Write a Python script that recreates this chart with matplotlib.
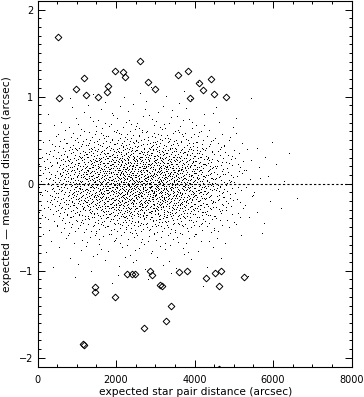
import numpy as np
import matplotlib
matplotlib.use("Agg")
import matplotlib.pyplot as plt
from matplotlib.ticker import MultipleLocator

# outlier star pairs (diamonds)
out_x = [517, 543, 976, 1190, 1248, 1554, 1776, 1791, 1970, 2173, 2224, 2599,
         2803, 2989, 3585, 3840, 4110, 4408, 4204, 4485, 3873, 4808,
         2268, 2413, 2472, 1460, 1460, 1962, 2709, 1164, 1190, 2854, 2905,
         3116, 3160, 3593, 3797, 4288, 4510, 4663, 4612, 5267, 3396, 3279, 4612]
out_y = [1.68, 0.98, 1.09, 1.21, 1.02, 1.00, 1.05, 1.12, 1.29, 1.28, 1.22, 1.41,
         1.17, 1.09, 1.25, 1.29, 1.16, 1.20, 1.07, 1.03, 0.98, 0.99,
         -1.04, -1.04, -1.04, -1.19, -1.25, -1.30, -1.66, -1.84, -1.85, -1.00, -1.05,
         -1.16, -1.18, -1.01, -1.00, -1.08, -1.03, -1.00, -1.17, -1.07, -1.41, -1.58, -2.13]

# the dense cloud of star pairs, read as a density table:
# number of pairs per 250 arcsec bin of expected distance
bin_width = 250
bin_counts = [30, 52, 75, 98, 115, 132, 147, 160, 170, 175, 175, 172, 170, 160,
              147, 129, 109, 85, 60, 39, 23, 13, 7, 5, 3, 2, 1, 0]
# relative density of residuals in 0.1 arcsec steps away from zero (same both sides)
resid_step = 0.1
resid_profile = [1.0, 0.95, 0.82, 0.62, 0.4, 0.22, 0.12, 0.07, 0.045, 0.03, 0.018, 0.008]


def radical_inverse(i, base):
    f, r = 1.0, 0.0
    while i > 0:
        f /= base
        r += f * (i % base)
        i //= base
    return r


# spread each bin's pairs over the bin with a low-discrepancy layout
dens = np.array(resid_profile[::-1] + resid_profile, dtype=float)
nb = len(resid_profile)
edges = np.arange(-nb, nb + 1) * resid_step
cdf = np.concatenate([[0], np.cumsum(dens)]) / dens.sum()

cloud_x, cloud_y = [], []
idx = 1
for k, n in enumerate(bin_counts):
    for j in range(n):
        u = radical_inverse(idx, 2)
        q = radical_inverse(idx, 3)
        idx += 1
        cloud_x.append(k * bin_width + u * bin_width)
        cloud_y.append(np.interp(q, cdf, edges))

fig = plt.figure(figsize=(3.64, 3.97), dpi=100)
ax = fig.add_axes([37.5 / 364, 30.5 / 397, 314 / 364, 365.7 / 397])

ax.plot(cloud_x, cloud_y, ',', color='black')
ax.plot(out_x, out_y, 'D', ms=3.4, mfc='none', mec='black', mew=0.7, clip_on=True)
ax.plot([0, 8000], [0, 0], color='black', lw=0.8, linestyle=(0, (2, 2)))

ax.set_xlim(0, 8000)
ax.set_ylim(-2.1, 2.1)
ax.xaxis.set_major_locator(MultipleLocator(2000))
ax.xaxis.set_minor_locator(MultipleLocator(500))
ax.yaxis.set_major_locator(MultipleLocator(1))
ax.yaxis.set_minor_locator(MultipleLocator(0.1))
ax.tick_params(which='both', direction='in', top=True, right=True, width=0.7,
               labelsize=7)
ax.tick_params(which='major', length=5)
ax.tick_params(which='minor', length=2.5)
ax.tick_params(axis='x', pad=6)
ax.tick_params(axis='y', pad=3)
ax.set_yticks([-2, -1, 0, 1, 2])
ax.set_yticklabels(['\u22122', '\u22121', '0', '1', '2'])
for s in ax.spines.values():
    s.set_linewidth(0.8)

ax.set_xlabel('expected star pair distance (arcsec)', fontsize=7.7)
ax.set_ylabel('expected \u2014 measured distance (arcsec)', fontsize=7.7)
ax.xaxis.set_label_coords(0.503, -0.0685)
ax.xaxis.label.set_va('center')
ax.yaxis.set_label_coords(-0.097, 0.5)
ax.yaxis.label.set_va('center')

fig.savefig('out.png', dpi=100)
